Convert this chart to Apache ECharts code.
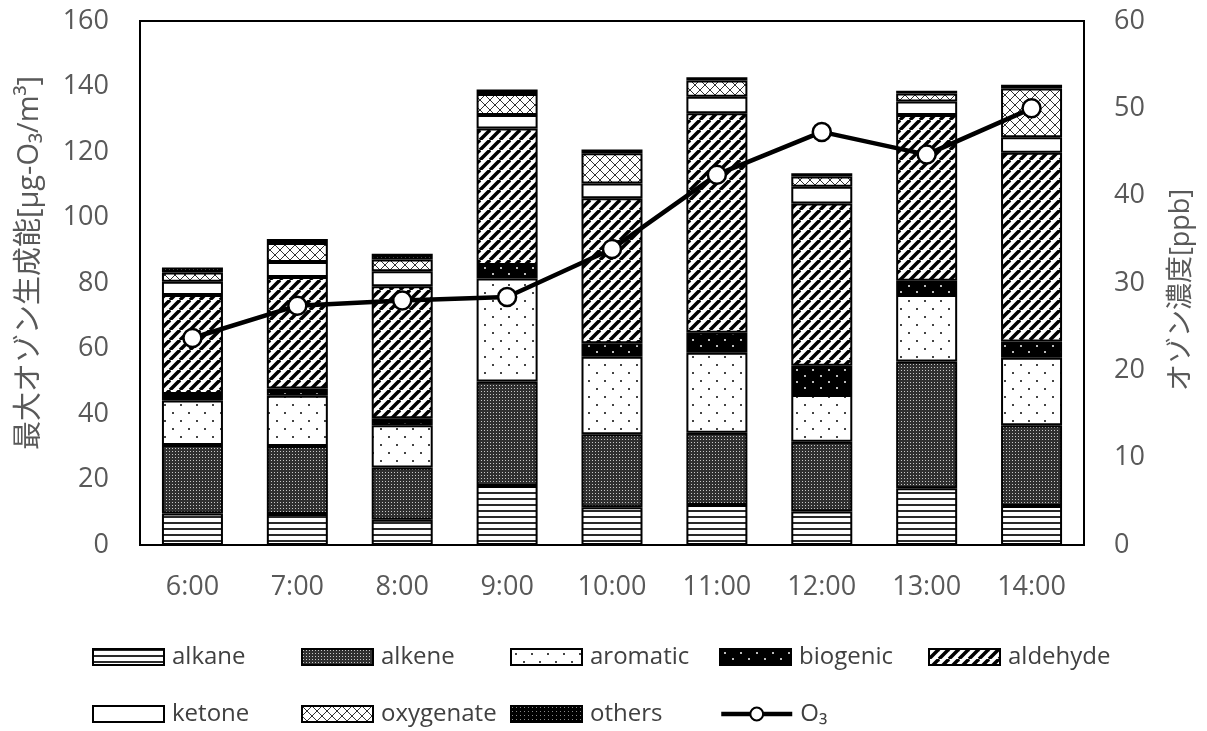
<!DOCTYPE html>
<html>
<head>
<meta charset="utf-8">
<script src="https://cdn.jsdelivr.net/npm/echarts@6/dist/echarts.min.js"></script>
<style>
  html, body { margin: 0; padding: 0; background: #fff; }
  #chart { width: 1207px; height: 731px; }
</style>
</head>
<body>
<div id="chart"></div>
<script>
// Hourly categories
const hours = ['6:00', '7:00', '8:00', '9:00', '10:00', '11:00', '12:00', '13:00', '14:00'];

// Maximum ozone formation potential by VOC group [μg-O3/m3]
const alkane    = [9.6, 9.5, 7.7, 18.0, 11.5, 12.2, 10.2, 17.3, 11.9];
const alkene    = [20.9, 20.7, 16.0, 31.9, 22.3, 22.1, 21.3, 38.7, 24.7];
const aromatic  = [13.6, 15.4, 12.9, 31.5, 23.7, 24.4, 14.3, 20.3, 20.6];
const biogenic  = [2.0, 2.2, 2.1, 4.1, 4.1, 6.1, 8.9, 4.4, 4.9];
const aldehyde  = [30.2, 34.0, 40.3, 41.7, 44.3, 67.0, 49.6, 50.6, 57.7];
const ketone    = [4.1, 4.6, 4.6, 4.1, 4.5, 5.1, 5.1, 4.1, 4.7];
const oxygenate = [2.8, 5.8, 3.6, 6.4, 9.2, 4.9, 3.1, 2.5, 14.9];
const others    = [1.5, 1.2, 1.7, 1.4, 1.2, 1.0, 1.0, 0.8, 1.1];

// Ozone concentration [ppb]
const o3 = [23.7, 27.4, 28.0, 28.4, 33.9, 42.4, 47.3, 44.7, 50.0];

// Axis ticks
const leftTicks  = { min: 0, max: 160, interval: 20 };
const rightTicks = { min: 0, max: 60, interval: 10 };

// ---- fill patterns -------------------------------------------------------
function tile(w, h, draw) {
  const c = document.createElement('canvas');
  c.width = w; c.height = h;
  const ctx = c.getContext('2d');
  draw(ctx, w, h);
  return { image: c, repeat: 'repeat' };
}
function dot(ctx, x, y, s, col) { ctx.fillStyle = col; ctx.fillRect(x, y, s, s); }

const patAlkane = tile(6, 6, (ctx, w, h) => {
  ctx.fillStyle = '#fff'; ctx.fillRect(0, 0, w, h);
  ctx.fillStyle = '#2a2a2a'; ctx.fillRect(0, 0, w, 2);
});
const patAlkene = tile(3, 3, (ctx, w, h) => {
  ctx.fillStyle = '#303030'; ctx.fillRect(0, 0, w, h);
  dot(ctx, 1, 1, 1, '#c8c8c8');
});
const patAromatic = tile(16, 16, (ctx, w, h) => {
  ctx.fillStyle = '#fff'; ctx.fillRect(0, 0, w, h);
  dot(ctx, 4, 4, 2, '#444'); dot(ctx, 12, 12, 2, '#444');
});
const patBiogenic = tile(16, 12, (ctx, w, h) => {
  ctx.fillStyle = '#000'; ctx.fillRect(0, 0, w, h);
  dot(ctx, 4, 3, 2, '#bbb'); dot(ctx, 12, 9, 2, '#bbb');
});
const patAldehyde = tile(10, 10, (ctx, w, h) => {
  ctx.fillStyle = '#fff'; ctx.fillRect(0, 0, w, h);
  ctx.strokeStyle = '#000'; ctx.lineWidth = 3.5;
  for (let k = -1; k <= 1; k++) {
    ctx.beginPath();
    ctx.moveTo(k * w, h);
    ctx.lineTo(k * w + w, 0);
    ctx.stroke();
  }
});
const patOxygenate = tile(10, 10, (ctx, w, h) => {
  ctx.fillStyle = '#fff'; ctx.fillRect(0, 0, w, h);
  ctx.strokeStyle = '#333'; ctx.lineWidth = 1;
  for (let k = -1; k <= 1; k++) {
    ctx.beginPath(); ctx.moveTo(k * w, h); ctx.lineTo(k * w + w, 0); ctx.stroke();
    ctx.beginPath(); ctx.moveTo(k * w, 0); ctx.lineTo(k * w + w, h); ctx.stroke();
  }
});
const patOthers = tile(4, 4, (ctx, w, h) => {
  ctx.fillStyle = '#000'; ctx.fillRect(0, 0, w, h);
  dot(ctx, 1, 1, 1, '#888');
});

// ---- series --------------------------------------------------------------
const groups = [
  ['alkane', alkane, patAlkane],
  ['alkene', alkene, patAlkene],
  ['aromatic', aromatic, patAromatic],
  ['biogenic', biogenic, patBiogenic],
  ['aldehyde', aldehyde, patAldehyde],
  ['ketone', ketone, '#ffffff'],
  ['oxygenate', oxygenate, patOxygenate],
  ['others', others, patOthers]
];

const barSeries = groups.map(([name, data, fill]) => ({
  name, type: 'bar', stack: 'ofp', data,
  barWidth: 61,
  itemStyle: { color: fill, borderColor: '#000', borderWidth: 2 },
  emphasis: { disabled: true }
}));

const lineSeries = {
  name: 'O₃', type: 'line', yAxisIndex: 1, data: o3, z: 10,
  symbol: 'circle', symbolSize: 18,
  lineStyle: { color: '#000', width: 4.5 },
  itemStyle: { color: '#fff', borderColor: '#000', borderWidth: 2.5 },
  emphasis: { disabled: true }
};

const FONT = "'Open Sans', 'Noto Sans CJK JP', sans-serif";
const legendCols = [92, 301, 510, 719, 928];
const legendNames = ['alkane', 'alkene', 'aromatic', 'biogenic', 'aldehyde', 'ketone', 'oxygenate', 'others', 'O₃'];
const legends = legendNames.map((n, i) => ({
  data: [n],
  left: legendCols[i % 5],
  top: i < 5 ? 645 : 702,
  padding: 0,
  icon: n === 'O₃' ? undefined : 'rect',
  itemWidth: 71, itemHeight: 16,
  itemGap: 0,
  selectedMode: false,
  lineStyle: { width: 4.5, color: '#000' },
  textStyle: { fontFamily: FONT, fontSize: 24, color: '#404040', padding: [0, 0, 0, 3] }
}));

const chart = echarts.init(document.getElementById('chart'), null, { renderer: 'canvas' });
chart.setOption({
  animation: false,
  backgroundColor: '#fff',
  textStyle: { fontFamily: FONT },
  grid: { left: 140, right: 123, top: 21, bottom: 186, show: true, borderColor: '#000', borderWidth: 2, backgroundColor: 'transparent' },
  legend: legends,
  xAxis: {
    type: 'category', data: hours,
    axisLine: { show: false }, axisTick: { show: false },
    axisLabel: { color: '#595959', fontSize: 27, margin: 29, fontFamily: FONT }
  },
  yAxis: [
    {
      type: 'value', ...leftTicks,
      name: '最大オゾン生成能[μg-O₃/m³]', nameLocation: 'middle', nameGap: 96, nameRotate: 90,
      nameTextStyle: { color: '#595959', fontSize: 29, fontFamily: FONT, padding: [0, 0, 0, 40] },
      axisLine: { show: false }, axisTick: { show: false }, splitLine: { show: false },
      axisLabel: { color: '#595959', fontSize: 27, margin: 31, fontFamily: FONT }
    },
    {
      type: 'value', ...rightTicks, position: 'right',
      name: 'オゾン濃度[ppb]', nameLocation: 'middle', nameGap: 84, nameRotate: 90,
      nameTextStyle: { color: '#595959', fontSize: 27, fontFamily: FONT, padding: [0, 14, 0, 0] },
      axisLine: { show: false }, axisTick: { show: false }, splitLine: { show: false },
      axisLabel: { color: '#595959', fontSize: 27, margin: 30, fontFamily: FONT }
    }
  ],
  series: [...barSeries, lineSeries]
});
</script>
</body>
</html>
